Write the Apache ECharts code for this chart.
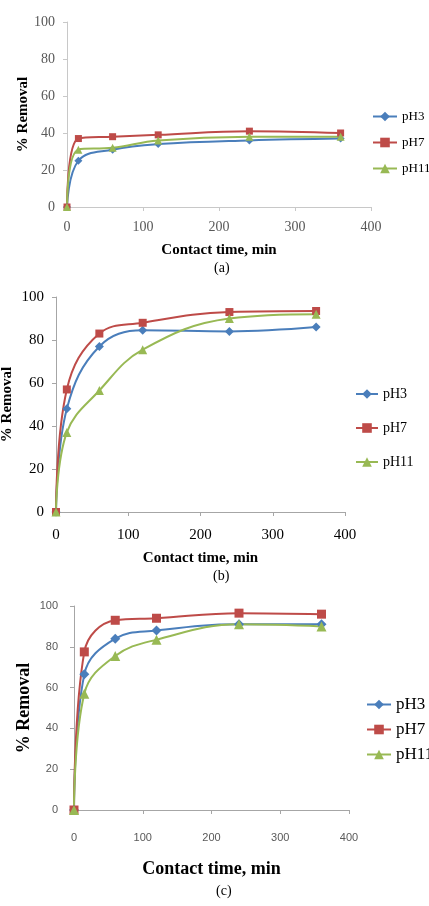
<!DOCTYPE html>
<html>
<head>
<meta charset="utf-8">
<script src="https://cdn.jsdelivr.net/npm/echarts@6/dist/echarts.min.js"></script>
<style>
  html, body { margin: 0; padding: 0; background: #fff; }
  #chart { width: 429px; height: 906px; }
</style>
</head>
<body>
<div id="chart"></div>
<script>
// contact time (min)
var times = [0, 15, 60, 120, 240, 360];
var seriesNames = ['pH3', 'pH7', 'pH11'];
var xTicks = [0, 100, 200, 300, 400];
var yTicks = [0, 20, 40, 60, 80, 100];

// panel (a)
var a_pH3 = [0, 25, 31, 34, 36, 37];
var a_pH7 = [0, 37, 38, 39, 41, 40];
var a_pH11 = [0, 31, 32, 36, 38, 38];
// panel (b)
var b_pH3 = [0, 48, 77, 84.5, 84, 86];
var b_pH7 = [0, 57, 83, 88, 93, 93.5];
var b_pH11 = [0, 37, 56.5, 75.5, 90, 92];
// panel (c)
var c_pH3 = [0, 66.5, 84, 88, 91, 91];
var c_pH7 = [0, 77.5, 93, 94, 96.5, 96];
var c_pH11 = [0, 57, 75.5, 83.5, 91, 90];

var colors = ['#4a7ebb', '#be4b48', '#98b954'];
var symbols = ['diamond', 'rect', 'triangle'];

function pairs(vals) {
  return times.map(function (t, i) { return [t, vals[i]]; });
}

// 每个小图的位置和字体
var panels = [
  {
    data: [a_pH3, a_pH7, a_pH11], caption: '(a)',
    grid: { left: 67, top: 22, width: 304, height: 185 },
    tickFont: 'Liberation Serif', tickSize: 14, tickColor: '#595959', axisColor: '#c8c8c8',
    xLabelMargin: 13, yLabelMargin: 12,
    titleSize: 15, yNameGap: 36, xNameGap: 36,
    legendLeft: 372, legendTop: 110, legendGap: 13, legendSize: 13, legendW: 24,
    capTop: 256, capLeft: 209, symSize: 7
  },
  {
    data: [b_pH3, b_pH7, b_pH11], caption: '(b)',
    grid: { left: 56, top: 297, width: 289, height: 215 },
    tickFont: 'Liberation Serif', tickSize: 15, tickColor: '#000', axisColor: '#a6a6a6',
    xLabelMargin: 16, yLabelMargin: 12,
    titleSize: 15, yNameGap: 41, xNameGap: 39,
    legendLeft: 355, legendTop: 387, legendGap: 20, legendSize: 14, legendW: 22,
    capTop: 564, capLeft: 208, symSize: 8
  },
  {
    data: [c_pH3, c_pH7, c_pH11], caption: '(c)',
    grid: { left: 74, top: 606, width: 275, height: 204 },
    tickFont: 'Liberation Sans', tickSize: 11, tickColor: '#595959', axisColor: '#a6a6a6',
    xLabelMargin: 22, yLabelMargin: 16,
    titleSize: 18, yNameGap: 41, xNameGap: 50,
    legendLeft: 366, legendTop: 696, legendGap: 8, legendSize: 17, legendW: 24,
    capTop: 879, capLeft: 211, symSize: 9
  }
];

var chart = echarts.init(document.getElementById('chart'));

var option = {
  backgroundColor: '#fff',
  animation: false,
  grid: [], xAxis: [], yAxis: [], legend: [], series: [], title: []
};

panels.forEach(function (p, k) {
  option.grid.push(Object.assign({ outerBoundsMode: 'none', containLabel: false }, p.grid));
  option.xAxis.push({
    gridIndex: k, type: 'value', min: 0, max: 400, interval: 100,
    name: 'Contact time, min', nameLocation: 'middle', nameGap: p.xNameGap, nameMoveOverlap: false,
    nameTextStyle: { fontFamily: 'Liberation Serif', fontWeight: 'bold', fontSize: p.titleSize, color: '#000' },
    axisLine: { show: true, onZero: false, lineStyle: { color: p.axisColor, width: 1 } },
    axisTick: { show: true, length: 4, lineStyle: { color: p.axisColor } },
    axisLabel: {
      margin: p.xLabelMargin, fontFamily: p.tickFont, fontSize: p.tickSize, color: p.tickColor,
      formatter: function (v) { return xTicks.indexOf(v) >= 0 ? String(v) : ''; }
    },
    splitLine: { show: false }
  });
  option.yAxis.push({
    gridIndex: k, type: 'value', min: 0, max: 100, interval: 20,
    name: '% Removal', nameLocation: 'middle', nameGap: p.yNameGap, nameRotate: 90, nameMoveOverlap: false,
    nameTextStyle: { fontFamily: 'Liberation Serif', fontWeight: 'bold', fontSize: p.titleSize, color: '#000' },
    axisLine: { show: true, lineStyle: { color: p.axisColor, width: 1 } },
    axisTick: { show: true, length: 4, lineStyle: { color: p.axisColor } },
    axisLabel: {
      margin: p.yLabelMargin, fontFamily: p.tickFont, fontSize: p.tickSize, color: p.tickColor,
      formatter: function (v) { return yTicks.indexOf(v) >= 0 ? String(v) : ''; }
    },
    splitLine: { show: false }
  });
  option.legend.push({
    data: seriesNames, orient: 'vertical',
    left: p.legendLeft, top: p.legendTop, itemGap: p.legendGap,
    itemWidth: p.legendW, itemHeight: 12, padding: 0,
    textStyle: { fontFamily: 'Liberation Serif', fontSize: p.legendSize, lineHeight: 12, color: '#000' }
  });
  option.title.push({
    text: p.caption, left: p.capLeft, top: p.capTop,
    textStyle: { fontFamily: 'Liberation Serif', fontWeight: 'normal', fontSize: 14, color: '#000' }
  });
  seriesNames.forEach(function (name, s) {
    option.series.push({
      name: name, type: 'line', xAxisIndex: k, yAxisIndex: k,
      data: pairs(p.data[s]), smooth: 0.4,
      symbol: symbols[s], symbolSize: symbols[s] === 'rect' ? p.symSize : p.symSize + 1,
      lineStyle: { color: colors[s], width: 2 },
      itemStyle: { color: colors[s] }
    });
  });
});

chart.setOption(option);
</script>
</body>
</html>
